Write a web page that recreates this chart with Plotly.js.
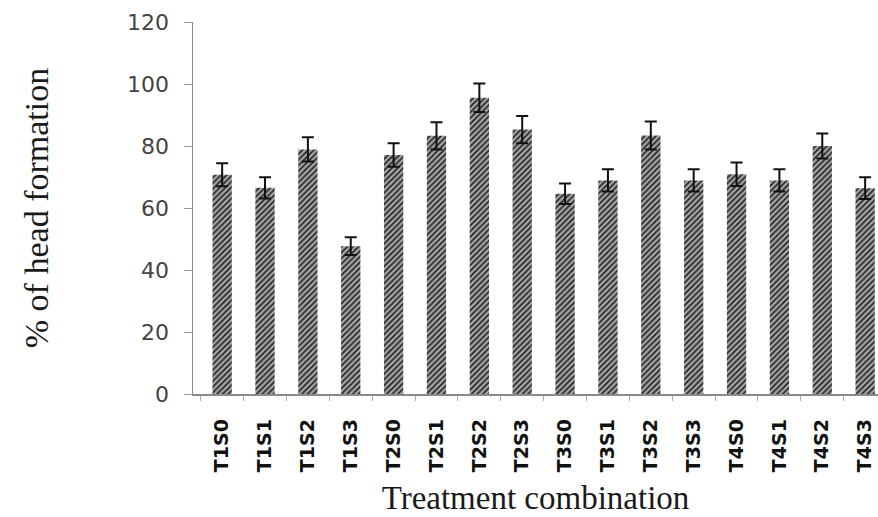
<!DOCTYPE html>
<html>
<head>
<meta charset="utf-8">
<script src="https://cdn.plot.ly/plotly-3.0.1.min.js"></script>
<style>
  html, body { margin: 0; padding: 0; background: #fff; }
  #chart { width: 878px; height: 517px; }
</style>
</head>
<body>
<div id="chart"></div>
<script>
// Treatment combinations (T = treatment level, S = sub-level)
const treatments = ["T1S0", "T1S1", "T1S2", "T1S3", "T2S0", "T2S1", "T2S2", "T2S3",
                    "T3S0", "T3S1", "T3S2", "T3S3", "T4S0", "T4S1", "T4S2", "T4S3"];

// Mean % of head formation for each combination
const headFormation = [70.7, 66.5, 78.9, 47.7, 77.1, 83.3, 95.6, 85.3,
                       64.6, 68.9, 83.4, 68.9, 70.9, 68.9, 80.0, 66.4];

// Standard error for each combination
const stdError = [3.7, 3.4, 3.9, 2.9, 3.8, 4.4, 4.6, 4.4,
                  3.3, 3.6, 4.5, 3.6, 3.8, 3.6, 4.0, 3.5];

const yTicks = [0, 20, 40, 60, 80, 100, 120];

const trace = {
  type: "bar",
  x: treatments,
  y: headFormation,
  width: 0.45,
  marker: {
    color: "#9a9a9a",
    line: { width: 0 },
    pattern: { shape: "/", fgcolor: "#262626", bgcolor: "#a8a8a8", size: 4, solidity: 0.45 }
  },
  error_y: {
    type: "data",
    array: stdError,
    visible: true,
    color: "#111",
    thickness: 2,
    width: 6
  },
  hoverinfo: "x+y"
};

const layout = {
  width: 878,
  height: 517,
  margin: { l: 193, r: 0, t: 22, b: 123 },
  paper_bgcolor: "#fff",
  plot_bgcolor: "#fff",
  showlegend: false,
  xaxis: {
    type: "category",
    range: [-0.68, 15.3],
    tickangle: -90,
    tickson: "boundaries",
    ticks: "outside",
    ticklen: 5,
    tickcolor: "#aaa",
    showline: true,
    linecolor: "#8a8a8a",
    linewidth: 1.5,
    showgrid: false,
    zeroline: false,
    ticklabelstandoff: 16,
    tickfont: { family: "DejaVu Sans", size: 19, color: "#111", weight: "bold" },
    title: {
      text: "Treatment combination",
      font: { family: "Liberation Serif", size: 33, color: "#1a1a1a" },
      standoff: 14
    },
    automargin: false
  },
  yaxis: {
    range: [0, 120],
    tickvals: yTicks,
    ticktext: yTicks.map(String),
    ticks: "outside",
    ticklen: 8,
    tickcolor: "#999",
    showline: true,
    linecolor: "#8a8a8a",
    linewidth: 1.5,
    showgrid: false,
    zeroline: false,
    ticklabelstandoff: 10,
    tickfont: { family: "DejaVu Sans", size: 22, color: "#444" },
    title: {
      text: "% of head formation",
      font: { family: "Liberation Serif", size: 34, color: "#1a1a1a" },
      standoff: 68
    },
    automargin: false
  }
};

Plotly.newPlot("chart", [trace], layout, { displayModeBar: false, staticPlot: true });
</script>
</body>
</html>
